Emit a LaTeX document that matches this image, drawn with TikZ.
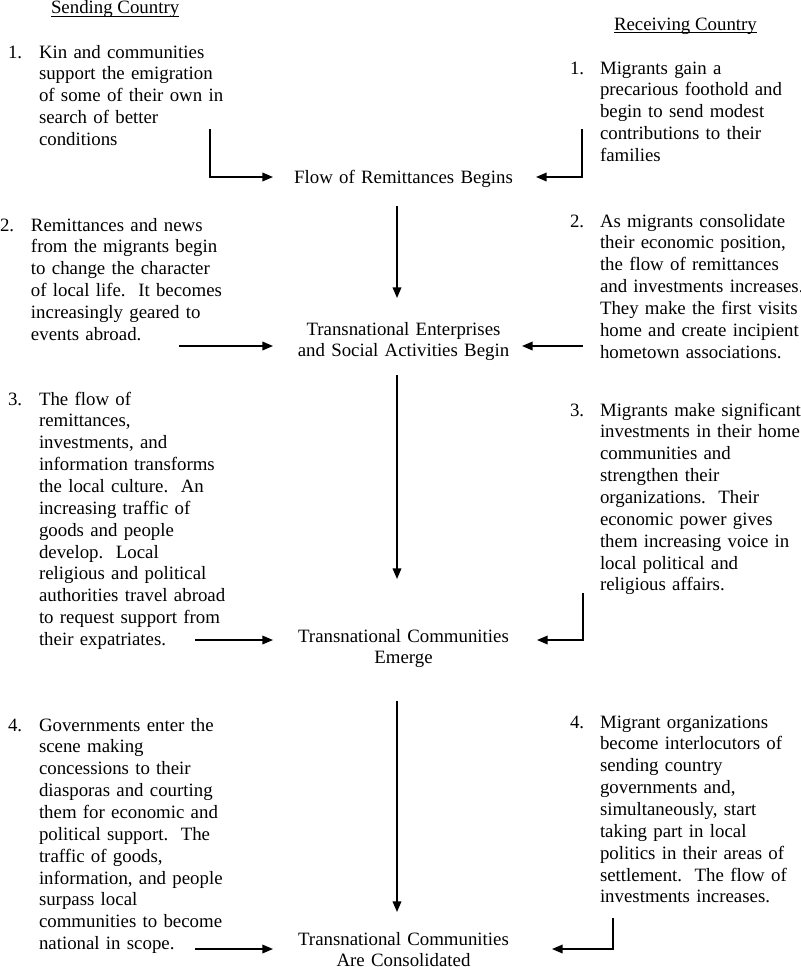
\documentclass[tikz,border=0pt]{standalone}
\usepackage{fontspec}
\setmainfont{Liberation Serif}
\usetikzlibrary{arrows.meta}
\newcommand{\txtfont}{\fontsize{14.13}{16.4}\selectfont}
\begin{document}
\begin{tikzpicture}[x=0.75pt,y=-0.75pt,
  item/.style={inner sep=0pt, outer sep=0pt, anchor=base west, align=left, text width=#1, font=\txtfont},
  num/.style={inner sep=0pt, outer sep=0pt, anchor=base west, font=\txtfont},
  head/.style={inner sep=0pt, outer sep=0pt, anchor=base west, font=\txtfont},
  stage/.style={inner sep=0pt, outer sep=0pt, anchor=base, align=center, text width=220pt, font=\txtfont},
  arr/.style={-{Triangle[length=8pt,width=6.5pt]}, line width=1.1pt},
  uline/.style={line width=0.8pt}
]
\useasboundingbox (0,0) rectangle (800,967);

% headers
\node[head] (send) at (51,13.5) {Sending Country};
\draw[uline] ([yshift=-2pt]send.base west) -- ([yshift=-2pt]send.base east);
\node[head] (recv) at (614,30) {Receiving Country};
\draw[uline] ([yshift=-2pt]recv.base west) -- ([yshift=-2pt]recv.base east);

% stages
\node[stage] (s1) at (403.5,183) {Flow of Remittances Begins};
\node[stage] (s2) at (403.5,335) {Transnational Enterprises\\and Social Activities Begin};
\node[stage] (s3) at (403.5,642) {Transnational Communities\\Emerge};
\node[stage] (s4) at (403.5,945) {Transnational Communities\\Are Consolidated};

% left items
\node[num] (ln1) at (8,58) {1.};
\node[item=150pt] (l1) at (39,58) {Kin and communities\\support the emigration\\of some of their own in\\search of better\\conditions};
\node[num] (ln2) at (0,231) {2.};
\node[item=150pt] (l2) at (31,231) {Remittances and news\\from the migrants begin\\to change the character\\of local life.\ \ It becomes\\increasingly geared to\\events abroad.};
\node[num] (ln3) at (8,405) {3.};
\node[item=150pt] (l3) at (39,405) {The flow of\\remittances,\\investments, and\\information transforms\\the local culture.\ \ An\\increasing traffic of\\goods and people\\develop.\ \ Local\\religious and political\\authorities travel abroad\\to request support from\\their expatriates.};
\node[num] (ln4) at (8,731) {4.};
\node[item=150pt] (l4) at (39,731) {Governments enter the\\scene making\\concessions to their\\diasporas and courting\\them for economic and\\political support.\ \ The\\traffic of goods,\\information, and people\\surpass local\\communities to become\\national in scope.};

% right items
\node[num] (rn1) at (570,74) {1.};
\node[item=165pt] (r1) at (600,74) {Migrants gain a\\precarious foothold and\\begin to send modest\\contributions to their\\families};
\node[num] (rn2) at (570,227) {2.};
\node[item=165pt] (r2) at (600,227) {As migrants consolidate\\their economic position,\\the flow of remittances\\and investments increases.\\They make the first visits\\home and create incipient\\hometown associations.};
\node[num] (rn3) at (570,416) {3.};
\node[item=165pt] (r3) at (600,416) {Migrants make significant\\investments in their home\\communities and\\strengthen their\\organizations.\ \ Their\\economic power gives\\them increasing voice in\\local political and\\religious affairs.};
\node[num] (rn4) at (570,728) {4.};
\node[item=165pt] (r4) at (600,728) {Migrant organizations\\become interlocutors of\\sending country\\governments and,\\simultaneously, start\\taking part in local\\politics in their areas of\\settlement.\ \ The flow of\\investments increases.};

% connector end points
\coordinate (a1s) at (210,129);  \coordinate (a1c) at (210,177);  \coordinate (a1e) at (273,177);
\coordinate (b1s) at (582,129);  \coordinate (b1c) at (582,177);  \coordinate (b1e) at (536,177);
\coordinate (a2s) at (179,346);  \coordinate (a2e) at (273,346);
\coordinate (b2s) at (583,346);  \coordinate (b2e) at (522,346);
\coordinate (a3s) at (195,640);  \coordinate (a3e) at (273,640);
\coordinate (b3s) at (583,593);  \coordinate (b3c) at (583,640);  \coordinate (b3e) at (537,640);
\coordinate (a4s) at (195,949);  \coordinate (a4e) at (273,949);
\coordinate (b4s) at (613,918);  \coordinate (b4c) at (613,949);  \coordinate (b4e) at (552,949);
\coordinate (d1s) at (397,206);  \coordinate (d1e) at (397,298);
\coordinate (d2s) at (397,375);  \coordinate (d2e) at (397,579);
\coordinate (d3s) at (397,701);  \coordinate (d3e) at (397,912);

% connectors
\draw[arr] (a1s) -- (a1c) -- (a1e);
\draw[arr] (b1s) -- (b1c) -- (b1e);
\draw[arr] (a2s) -- (a2e);
\draw[arr] (b2s) -- (b2e);
\draw[arr] (a3s) -- (a3e);
\draw[arr] (b3s) -- (b3c) -- (b3e);
\draw[arr] (a4s) -- (a4e);
\draw[arr] (b4s) -- (b4c) -- (b4e);
\draw[arr] (d1s) -- (d1e);
\draw[arr] (d2s) -- (d2e);
\draw[arr] (d3s) -- (d3e);
\end{tikzpicture}
\end{document}
